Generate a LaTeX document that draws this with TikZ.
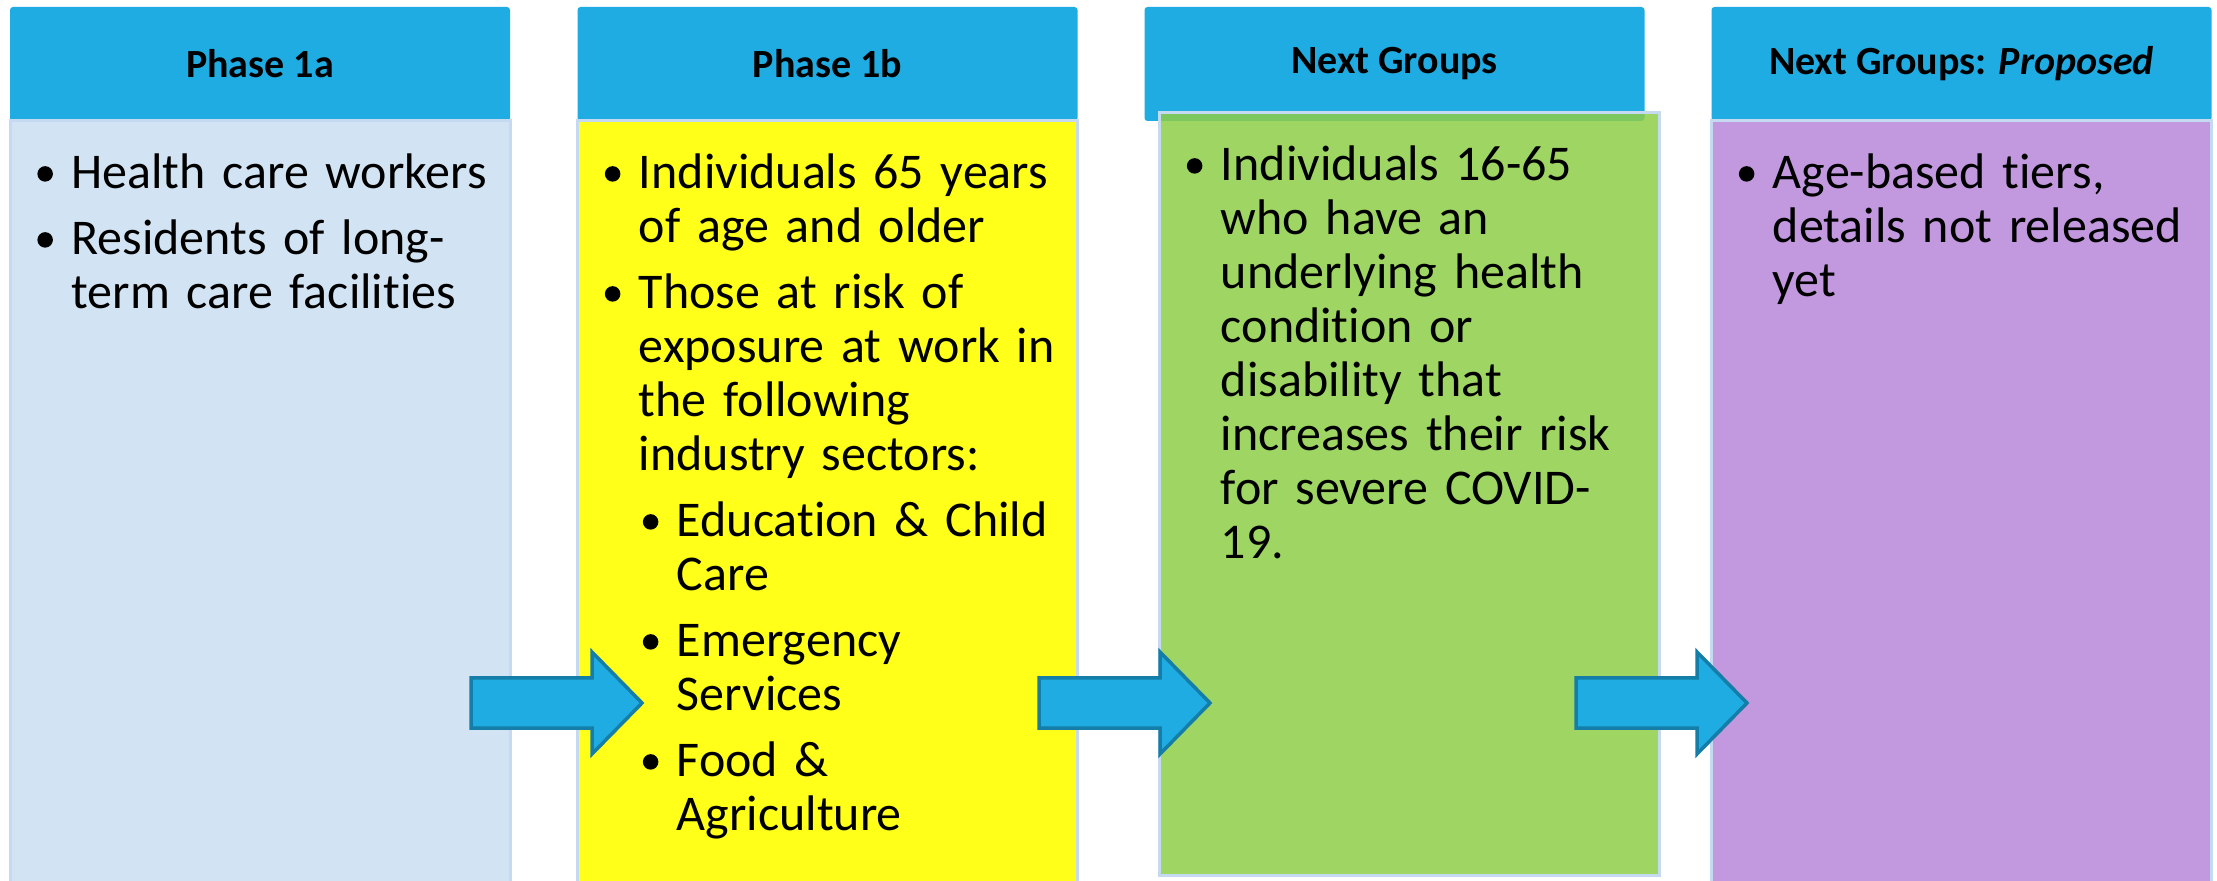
\documentclass[tikz,border=0pt]{standalone}
\usepackage{fontspec}
\setmainfont{Carlito}[Ligatures=NoCommon]
\usepackage{tikz}
\usetikzlibrary{positioning, calc}

% bullet items (first and second level)
\newcommand{\bul}{\tikz[baseline=0pt]\fill (3.875pt,7.25pt) circle[radius=3.875pt];}
\newcommand{\pitem}[1]{\par\hangindent=16pt\hangafter=1\noindent\strut\makebox[16pt][l]{\hspace*{-1pt}\bul}#1\par}
\newcommand{\sitem}[1]{\par\hangindent=35pt\hangafter=1\noindent\strut\hspace*{19pt}\makebox[16pt][l]{\hspace*{-1pt}\bul}#1\par}

\begin{document}
\begin{tikzpicture}[
    x=0.5pt, y=0.5pt,
    header/.style={fill=headC, rounded corners=1.5pt, minimum width=250pt, minimum height=57pt,
                   inner sep=0pt, outer sep=0pt, font=\bfseries\fontsize{20}{24}\selectfont},
    body/.style={draw=edgeC, line width=1.5pt, minimum width=250pt, minimum height=381pt,
                 inner sep=0pt, outer sep=0pt},
    items/.style={anchor=north west, inner sep=0pt, text width=235pt, align=left,
                  font=\fontsize{25}{27}\selectfont,
                  execute at begin node={\setlength{\parskip}{6pt}}},
    arrowblock/.style={fill=headC, draw=arrowC, line width=1.75pt, line join=miter},
    nextarrow/.pic={\draw[arrowblock] (0,25) -- (121,25) -- (121,51) -- (171,0)
                    -- (121,-51) -- (121,-25) -- (0,-25) -- cycle;}
]

\definecolor{headC}{RGB}{31,172,226}
\definecolor{edgeC}{RGB}{197,218,240}
\definecolor{arrowC}{RGB}{20,125,168}
\definecolor{phaseA}{RGB}{210,228,243}
\definecolor{phaseB}{RGB}{255,255,26}
\definecolor{nextG}{RGB}{142,206,72}
\definecolor{propC}{RGB}{194,152,222}

\path[use as bounding box, fill=white] (0,0) rectangle (2217,-881);

% headers
\node[header] (h1) at (260,-64) {Phase 1a};
\node[header] (h2) at (827.5,-64) {Phase 1b};
\node[header] (h3) at (1394.5,-64) {Next Groups};
\node[header] (h4) at (1961.5,-64) {Next Groups: \textit{Proposed}};

% columns
\node[body, fill=phaseA, below=0pt of h1] (b1) {};
\node[body, fill=phaseB, below=0pt of h2] (b2) {};
\node[body, fill=nextG, fill opacity=0.85, anchor=north] (b3) at ([xshift=7.5pt, yshift=4pt]h3.south) {};
\node[body, fill=propC, below=0pt of h4] (b4) {};

% Phase 1a
\node[items] (t1) at ([xshift=14.5pt, yshift=-0.5pt]b1.north west)
  {\pitem{Health care workers}
   \pitem{Residents of long-\newline term care facilities}};

% Phase 1b
\node[items] (t2) at ([xshift=14.5pt, yshift=-0.5pt]b2.north west)
  {\pitem{Individuals 65 years\newline of age and older}
   \pitem{Those at risk of\newline exposure at work in\newline the following\newline industry sectors:}
   \sitem{Education \& Child\newline Care}
   \sitem{Emergency\newline Services}
   \sitem{Food \&\newline Agriculture}};

% Next Groups
\node[items] (t3) at ([xshift=14.5pt, yshift=-0.5pt]b3.north west)
  {\pitem{Individuals 16-65\newline who have an\newline underlying health\newline condition or\newline disability that\newline increases their risk\newline for severe COVID-\newline 19.}};

% Next Groups: Proposed
\node[items] (t4) at ([xshift=14.5pt, yshift=-0.5pt]b4.north west)
  {\pitem{Age-based tiers,\newline details not released\newline yet}};

% block arrows between columns
\pic (a1) at (471,-703) {nextarrow};
\pic (a2) at (1039,-703) {nextarrow};
\pic (a3) at (1576,-703) {nextarrow};

\end{tikzpicture}
\end{document}
